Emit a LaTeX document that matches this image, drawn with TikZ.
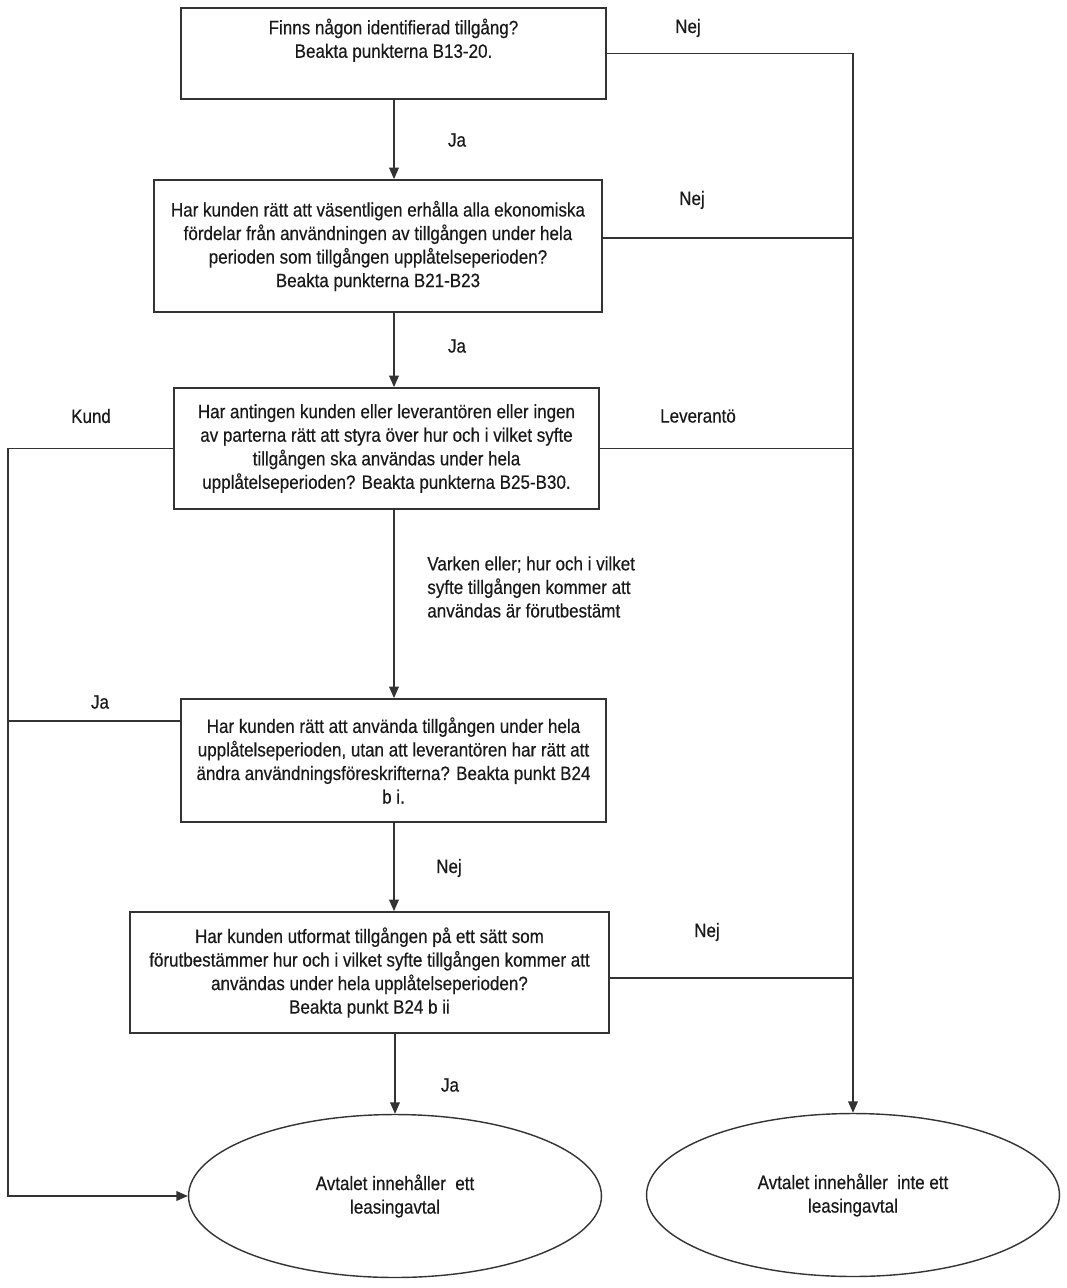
\documentclass[tikz,border=0pt]{standalone}
\usepackage{fontspec}
\setmainfont[FakeStretch=0.88, FakeBold=0.4]{Liberation Sans}
\usetikzlibrary{shapes.geometric,arrows.meta}

\begin{document}
\begin{tikzpicture}[x=0.02cm, y=-0.02cm,
    font=\fontsize{11}{13.4}\selectfont, text=black!90,
    ruta/.style={draw=black!80, line width=1pt, rectangle, align=center, inner sep=0pt},
    utfall/.style={draw=black!80, line width=0.8pt, ellipse, align=center, inner sep=0pt,
        minimum width=8.26cm, minimum height=3.26cm},
    pil/.style={draw=black!80, line width=0.8pt, -{Triangle[width=5.5pt,length=6.5pt]}},
    linje/.style={draw=black!80, line width=0.8pt},
    etikett/.style={inner sep=0pt}]
    \useasboundingbox (0,0) rectangle (1066,1288);

    % 1. Frågerutorna
    \node[ruta, minimum width=8.5cm, minimum height=1.82cm] (fraga1) at (393.5,53.5)
        {Finns någon identifierad tillgång?\\Beakta punkterna B13-20.\\\strut};
    \node[ruta, minimum width=8.96cm, minimum height=2.64cm] (fraga2) at (378,246)
        {Har kunden rätt att väsentligen erhålla alla ekonomiska\\fördelar från användningen av tillgången under hela\\perioden som tillgången upplåtelseperioden?\\Beakta punkterna B21-B23};
    \node[ruta, minimum width=8.5cm, minimum height=2.42cm] (fraga3) at (386.5,448.5)
        {Har antingen kunden eller leverantören eller ingen\\av parterna rätt att styra över hur och i vilket syfte\\tillgången ska användas under hela\\upplåtelseperioden? Beakta punkterna B25-B30.};
    \node[ruta, minimum width=8.5cm, minimum height=2.46cm] (fraga4) at (393.5,760.5)
        {Har kunden rätt att använda tillgången under hela\\upplåtelseperioden, utan att leverantören har rätt att\\ändra användningsföreskrifterna? Beakta punkt B24\\b i.};
    \node[ruta, minimum width=9.58cm, minimum height=2.42cm] (fraga5) at (369.5,972.5)
        {Har kunden utformat tillgången på ett sätt som\\förutbestämmer hur och i vilket syfte tillgången kommer att\\användas under hela upplåtelseperioden?\\Beakta punkt B24 b ii};

    % 2. Utfallen (ellipser)
    \node[utfall] (leasing) at (395,1196) {Avtalet innehåller~ ett\\leasingavtal};
    \node[utfall] (inteleasing) at (853,1195) {Avtalet innehåller~ inte ett\\leasingavtal};

    % 3. Pilar nedåt i mitten
    \coordinate (mitt) at (394,0);
    \draw[pil] (fraga1.south -| mitt) -- (fraga2.north -| mitt);
    \draw[pil] (fraga2.south -| mitt) -- (fraga3.north -| mitt);
    \draw[pil] (fraga3.south -| mitt) -- (fraga4.north -| mitt);
    \draw[pil] (fraga4.south -| mitt) -- (fraga5.north -| mitt);
    \draw[pil] (fraga5.south -| leasing.north) -- (leasing.north);

    % 4. Högra linjen (Nej / Leverantö)
    \draw[pil] (fraga1.east) -- (fraga1.east -| inteleasing.north) -- (inteleasing.north);
    \draw[linje] ([yshift=0.16cm]fraga2.east) -- ([yshift=0.16cm]fraga2.east -| inteleasing.north);
    \draw[linje] (fraga3.east) -- (fraga3.east -| inteleasing.north);
    \draw[linje] ([yshift=-0.11cm]fraga5.east) -- ([yshift=-0.11cm]fraga5.east -| inteleasing.north);

    % 5. Vänstra linjen (Kund / Ja)
    \coordinate (vanster) at (8,449);
    \draw[pil] (fraga3.west) -- (fraga3.west -| vanster) -- (vanster |- leasing.west) -- (leasing.west);
    \draw[linje] ([yshift=-0.46cm]fraga4.north west) -- ([yshift=-0.46cm]fraga4.north west -| vanster);

    % 6. Etiketter
    \node[etikett] (nej1) at (688,28) {Nej};
    \node[etikett] (ja1) at (457,140) {Ja};
    \node[etikett] (nej2) at (692,200) {Nej};
    \node[etikett] (ja2) at (457,346) {Ja};
    \node[etikett] (kund) at (91,416) {Kund};
    \node[etikett] (leverantor) at (698,416) {Leverantö};
    \node[etikett, anchor=west, align=left] (varken) at (427,587)
        {Varken eller; hur och i vilket\\syfte tillgången kommer att\\användas är förutbestämt};
    \node[etikett] (ja3) at (100,702) {Ja};
    \node[etikett] (nej3) at (449,868) {Nej};
    \node[etikett] (nej4) at (707,932) {Nej};
    \node[etikett] (ja4) at (450,1085) {Ja};

\end{tikzpicture}
\end{document}
